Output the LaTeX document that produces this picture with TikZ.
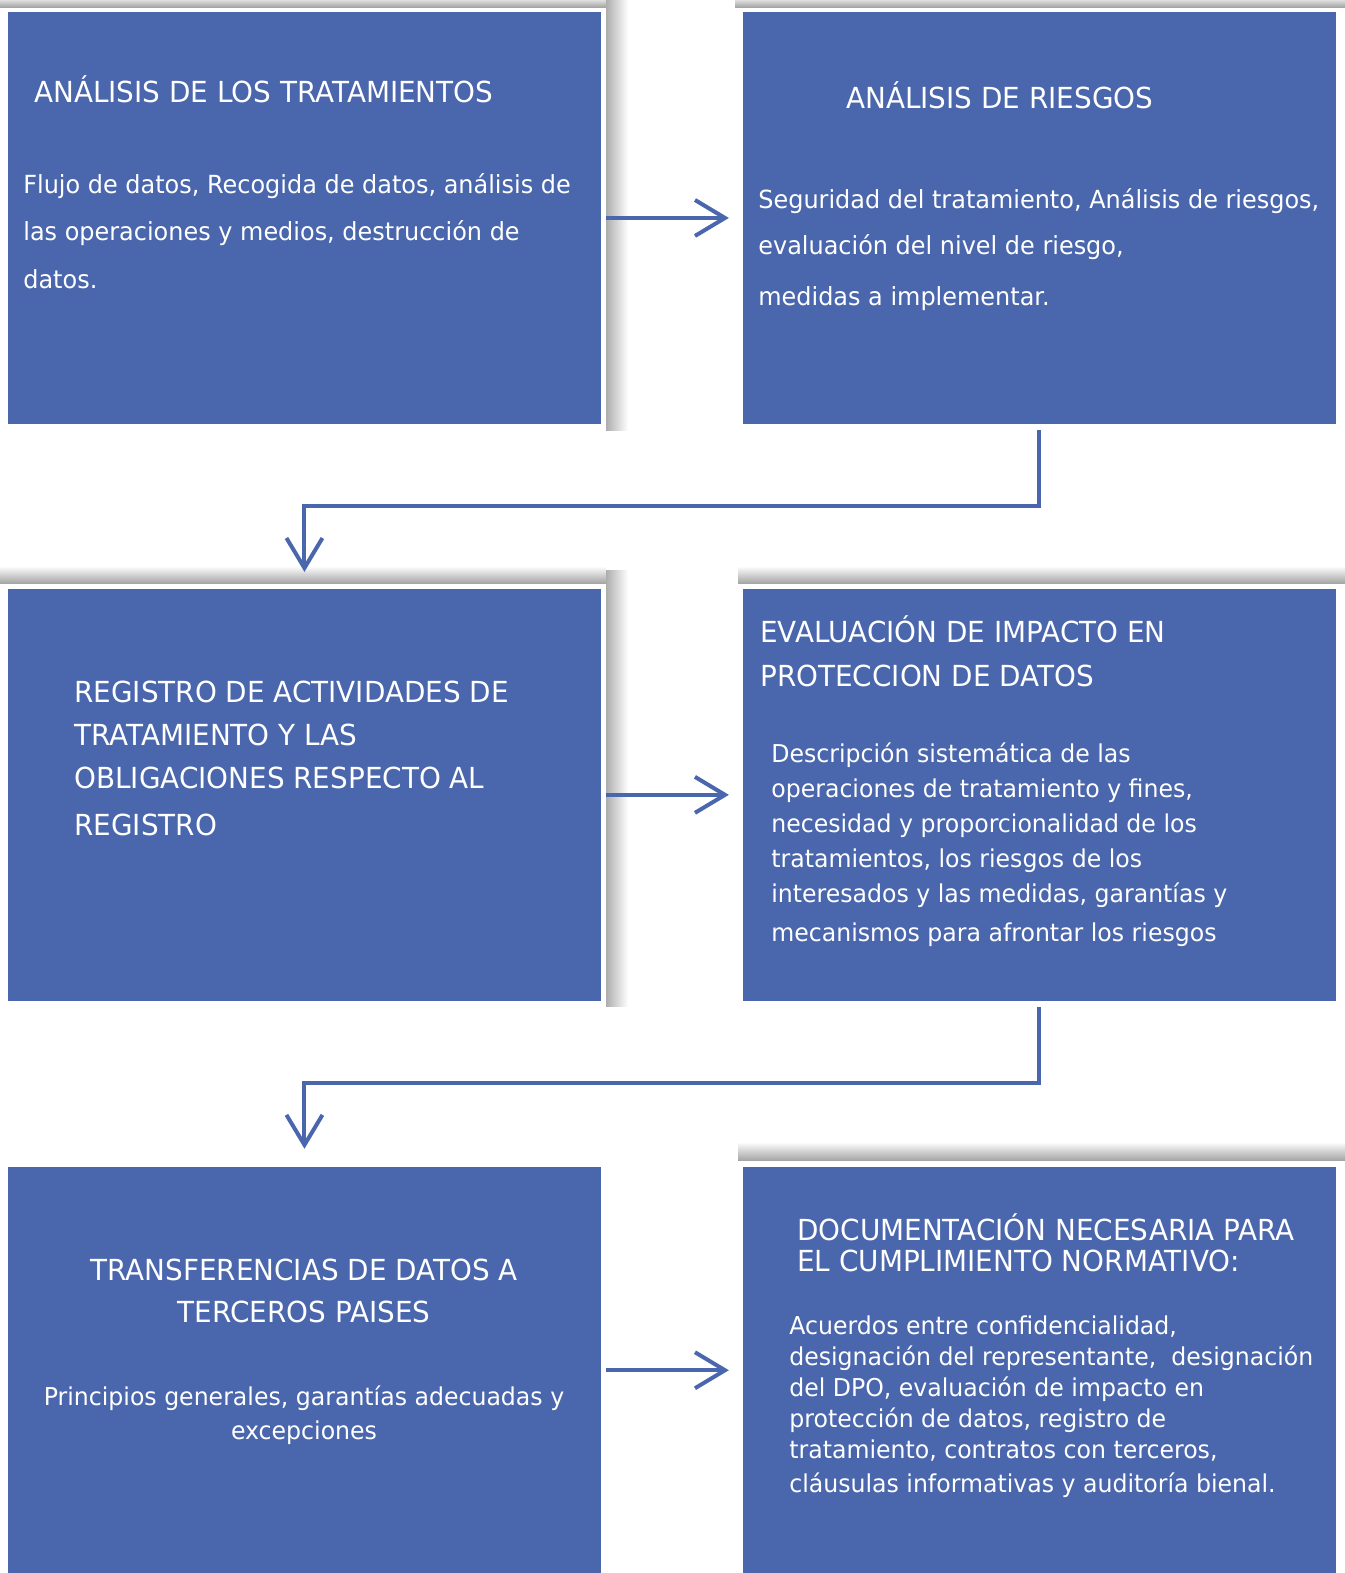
\documentclass[tikz,border=0pt]{standalone}
\usepackage{fontspec}
\setmainfont{DejaVu Sans}[FakeStretch=0.96]
\usetikzlibrary{arrows.meta,positioning}
\definecolor{blauw}{RGB}{74,102,172}

\begin{document}
\begin{tikzpicture}[
  x=0.02cm, y=-0.02cm,
  box/.style={fill=blauw, anchor=north west, minimum width=11.86cm, minimum height=8.24cm, inner sep=0pt, outer sep=0pt},
  txt/.style={text=white, anchor=base west, align=left, inner sep=0pt},
  kop/.style={txt, font=\fontsize{16.5}{24.5}\selectfont},
  tekst/.style={txt, font=\fontsize{14}{20}\selectfont},
  pijl/.style={draw=blauw, line width=0.08cm, -{Straight Barb[length=0.6cm, width=0.72cm]}},
  sch/.style={top color=white, bottom color=black!35},
  schr/.style={left color=black!32, right color=white}
]
\useasboundingbox (0,0) rectangle (1345,1573);

% schaduwen
\shade[sch] (0,-4) rectangle (606,7);
\shade[schr] (606,0) rectangle (628,430);
\shade[sch] (735,-4) rectangle (1345,7);
\shade[sch] (0,566) rectangle (606,583);
\shade[schr] (606,570) rectangle (628,1006);
\shade[sch] (738,566) rectangle (1345,583);
\shade[sch] (738,1142) rectangle (1345,1160);

\node[box] (trat) at (8,12) {};
\node[box, right=2.84cm of trat] (ries) {};
\node[box, below=3.3cm of trat] (reg) {};
\node[box, right=2.84cm of reg] (eipd) {};
\node[box, minimum height=8.14cm, below=3.32cm of reg] (trans) {};
\node[box, minimum height=8.14cm, right=2.84cm of trans] (doc) {};

% base = laatste regel
\node[kop] (trat-t) at (34,102) {ANÁLISIS DE LOS TRATAMIENTOS};
\node[tekst, font=\fontsize{14.2}{27}\selectfont] (trat-b) at (23,288)
  {Flujo de datos, Recogida de datos, análisis de\\las operaciones y medios, destrucción de\\datos.};

\node[kop] (ries-t) at (846,108) {ANÁLISIS DE RIESGOS};
\node[tekst, font=\fontsize{14.2}{26.2}\selectfont] (ries-b) at (758,305)
  {Seguridad del tratamiento, Análisis de riesgos,\\evaluación del nivel de riesgo,\\[2.3pt]medidas a implementar.};

\node[kop] (reg-t) at (74,835)
  {REGISTRO DE ACTIVIDADES DE\\TRATAMIENTO Y LAS\\OBLIGACIONES RESPECTO AL\\[1.7pt]REGISTRO};

\node[kop] (eipd-t) at (760,686) {EVALUACIÓN DE IMPACTO EN\\PROTECCION DE DATOS};
\node[tekst, font=\fontsize{14}{19.9}\selectfont] (eipd-b) at (771,941)
  {Descripción sistemática de las\\operaciones de tratamiento y fines,\\necesidad y proporcionalidad de los\\tratamientos, los riesgos de los\\interesados y las medidas, garantías y\\[2.3pt]mecanismos para afrontar los riesgos};

\node[kop, anchor=base, align=center, font=\fontsize{16.5}{23.9}\selectfont] (trans-t) at (304,1322)
  {TRANSFERENCIAS DE DATOS A\\TERCEROS PAISES};
\node[tekst, anchor=base, align=center, font=\fontsize{14}{18.8}\selectfont] (trans-b) at (304,1439)
  {Principios generales, garantías adecuadas y\\excepciones};

\node[kop, font=\fontsize{16.5}{17.6}\selectfont] (doc-t) at (797,1271)
  {DOCUMENTACIÓN NECESARIA PARA\\EL CUMPLIMIENTO NORMATIVO:};
\node[tekst, font=\fontsize{14}{17.6}\selectfont] (doc-b) at (789,1492)
  {Acuerdos entre confidencialidad,\\designación del representante,\ \ designación\\del DPO, evaluación de impacto en\\protección de datos, registro de\\tratamiento, contratos con terceros,\\[1.7pt]cláusulas informativas y auditoría bienal.};

\draw[pijl, shorten <=0.1cm, shorten >=0.28cm] (trat) -- (ries);
\draw[pijl, shorten <=0.12cm, shorten >=0.34cm] (ries.south) -- ++(0,82) -| (reg.north);
\draw[pijl, shorten <=0.1cm, shorten >=0.28cm] (reg) -- (eipd);
\draw[pijl, shorten <=0.12cm, shorten >=0.36cm] (eipd.south) -- ++(0,82) -| (trans.north);
\draw[pijl, shorten <=0.1cm, shorten >=0.28cm] (trans) -- (doc);
\end{tikzpicture}
\end{document}
